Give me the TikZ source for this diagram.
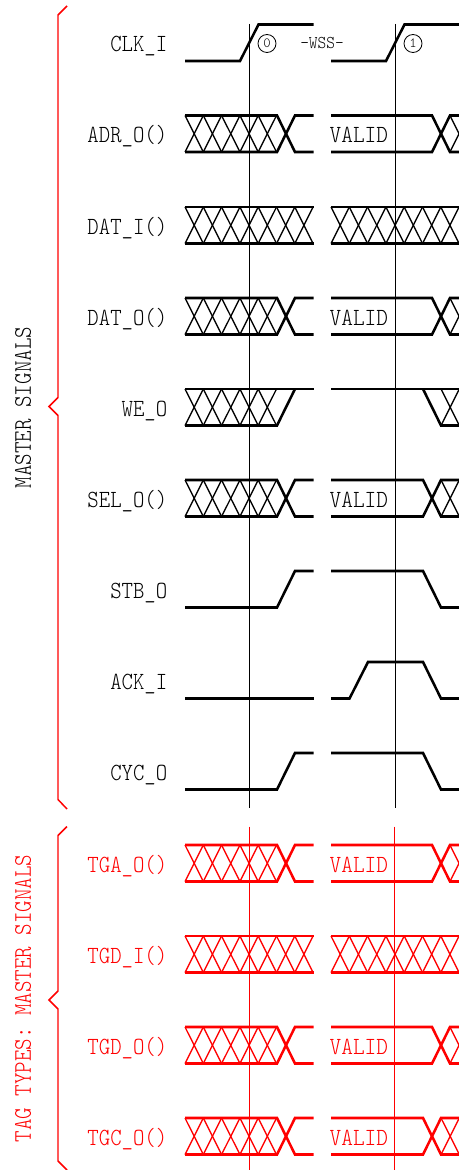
\documentclass[tikz,border=0pt]{standalone}
\usepackage{amsmath}
\usepackage{fontspec}
\setmonofont{Latin Modern Mono Light}
\usetikzlibrary{calc,positioning}

\tikzset{
  sigline/.style={line width=1.9pt, line join=miter},
  hatchline/.style={line width=1pt},
  cursor/.style={line width=0.75pt},
  bracket/.style={line width=1.1pt, red},
  siglabel/.style={anchor=base east, inner sep=0pt, font=\ttfamily\fontsize{18.5}{18}\selectfont, xscale=0.88, transform shape},
  buslabel/.style={anchor=base west, inner sep=0pt, font=\ttfamily\fontsize{18.5}{18}\selectfont, xscale=0.9, transform shape},
  grouplabel/.style={inner sep=0pt, font=\ttfamily\fontsize{19}{18}\selectfont, rotate=90, xscale=0.865, transform shape},
  smalllabel/.style={inner sep=0pt, font=\ttfamily\fontsize{13.5}{14}\selectfont, xscale=0.92, transform shape},
  cyclemark/.style={circle, draw, line width=0.6pt, minimum size=13.5pt, inner sep=0pt, font=\ttfamily\fontsize{10.5}{10}\selectfont}
}

% cells of crossed lines: first x, number of cells, top y
\newcommand{\xcells}[3]{
  \foreach \c in {1,...,#2} {
    \draw[hatchline] ({#1+(\c-1)*18.3},#3) -- ++(18.3,36.5);
    \draw[hatchline] ({#1+(\c-1)*18.3},#3+36.5) -- ++(18.3,-36.5);
  }
}
% row name: top y, node name, text
\newcommand{\rowname}[3]{\draw (167.5,#1+27) node[siglabel] (#2) {#3};}
% left half, unknown then change: top y
\newcommand{\xthenbus}[1]{
  \xcells{185}{5}{#1}
  \draw[sigline] (185,#1) -- (277,#1) -- (295,#1+36.5) -- (313.5,#1+36.5);
  \draw[sigline] (185,#1+36.5) -- (277,#1+36.5) -- (295,#1) -- (313.5,#1);
}
% right half, VALID then change at 432: top y, node name
\newcommand{\validlate}[2]{
  \draw (329.5,#1+27) node[buslabel] (#2) {VALID};
  \draw[sigline] (331,#1) -- (432,#1) -- (450,#1+36.5) -- (459,#1+36.5);
  \draw[sigline] (331,#1+36.5) -- (432,#1+36.5) -- (450,#1) -- (459,#1);
  \draw[hatchline] (450,#1) -- (459,#1+18.25) -- (450,#1+36.5);
}
% right half, VALID then change at 423: top y, node name
\newcommand{\validearly}[2]{
  \draw (329.5,#1+27) node[buslabel] (#2) {VALID};
  \xcells{441}{1}{#1}
  \draw[sigline] (331,#1) -- (423,#1) -- (441,#1+36.5) -- (459,#1+36.5);
  \draw[sigline] (331,#1+36.5) -- (423,#1+36.5) -- (441,#1) -- (459,#1);
}
% both halves unknown: top y
\newcommand{\xrow}[1]{
  \xcells{185}{7}{#1}
  \xcells{331}{7}{#1}
  \draw[sigline] (185,#1) -- (313.5,#1) (185,#1+36.5) -- (313.5,#1+36.5);
  \draw[sigline] (331,#1) -- (459,#1) (331,#1+36.5) -- (459,#1+36.5);
}
% strobe going high, then high and falling: top y
\newcommand{\strobe}[1]{
  \draw[sigline] (185,#1+36.5) -- (277,#1+36.5) -- (295,#1) -- (313.5,#1);
  \draw[sigline] (331,#1) -- (423,#1) -- (441,#1+36.5) -- (459,#1+36.5);
}

\begin{document}
\begin{tikzpicture}[x=0.75pt,y=-0.75pt]

    % page
    \useasboundingbox (0,0) rectangle (459,1170);

    % master signals, text
    \draw (23,407.5) node[grouplabel] (master) {MASTER SIGNALS};
    \rowname{24.5}{clk}{CLK\_I}
    \rowname{115.5}{adr}{ADR\_O()}
    \rowname{207}{dati}{DAT\_I()}
    \rowname{298}{dato}{DAT\_O()}
    \rowname{389}{we}{WE\_O}
    \rowname{480}{sel}{SEL\_O()}
    \rowname{571}{stb}{STB\_O}
    \rowname{662}{ack}{ACK\_I}
    \rowname{753}{cyc}{CYC\_O}
    \draw[bracket] (67,6) -- (58,15) -- (58,397.5) -- (49,406.5) -- (58,415.5) -- (58,799.5) -- (67,809);

    % clock
    \draw[sigline] (185,61) -- (240,61) -- (258.5,24.5) -- (313.5,24.5);
    \draw[sigline] (331,61) -- (386,61) -- (404.5,24.5) -- (459,24.5);
    \draw (267,43.5) node[cyclemark] (zero) {0};
    \draw (413,43.5) node[cyclemark] (one) {1};
    \draw (322,43) node[smalllabel] (wss) {-WSS-};

    % master signals, waves
    \xthenbus{115.5}
    \validlate{115.5}{adrvalid}
    \xrow{207}
    \xthenbus{298}
    \validlate{298}{datvalid}

    \xcells{185}{5}{389}
    \draw[sigline] (185,389) -- (313.5,389);
    \draw[sigline] (185,425.5) -- (277,425.5) -- (295,389);
    \draw[sigline] (331,389) -- (459,389);
    \draw[sigline] (423,389) -- (441,425.5) -- (459,425.5);
    \xcells{441}{1}{389}

    \xthenbus{480}
    \validearly{480}{selvalid}
    \strobe{571}
    \draw[sigline] (185,698.5) -- (313.5,698.5);
    \draw[sigline] (331,698.5) -- (349.5,698.5) -- (368,662) -- (423,662) -- (441,698.5) -- (459,698.5);
    \strobe{753}

    % cursors
    \draw[cursor] (249,24) -- (249,808);
    \draw[cursor] (395,24) -- (395,808);

    % tag types
    \begin{scope}[red]
    \draw (23,998.5) node[grouplabel] (tags) {TAG TYPES: MASTER SIGNALS};
    \rowname{845}{tga}{TGA\_O()}
    \rowname{936}{tgdi}{TGD\_I()}
    \rowname{1027}{tgdo}{TGD\_O()}
    \rowname{1118}{tgc}{TGC\_O()}
    \draw[bracket] (67,826.5) -- (58,835.5) -- (58,991) -- (49,1000) -- (58,1009) -- (58,1161) -- (67,1170);

    \xthenbus{845}
    \validlate{845}{tgavalid}
    \xrow{936}
    \xthenbus{1027}
    \validlate{1027}{tgdvalid}
    \xthenbus{1118}
    \validearly{1118}{tgcvalid}

    \draw[cursor] (249,826.5) -- (249,1170);
    \draw[cursor] (394.5,826.5) -- (394.5,1170);
    \end{scope}

\end{tikzpicture}
\end{document}
